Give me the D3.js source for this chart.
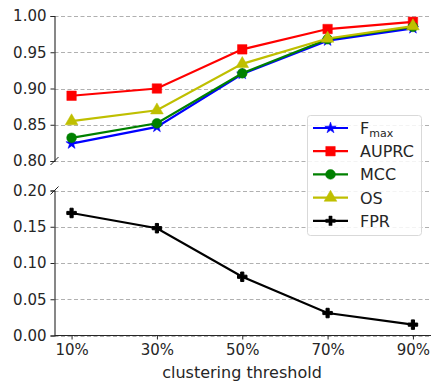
<!DOCTYPE html>
<html>
<head>
<meta charset="utf-8">
<script src="https://cdn.jsdelivr.net/npm/d3@7"></script>
<style>
  body { margin: 0; background: #fff; }
  text { font-family: "DejaVu Sans", sans-serif; }
</style>
</head>
<body>
<svg id="chart" width="431" height="382"></svg>
<script>
// values
const thresholds = ["10%", "30%", "50%", "70%", "90%"];
const fmax  = [0.824, 0.847, 0.920, 0.966, 0.983];
const auprc = [0.890, 0.900, 0.954, 0.982, 0.992];
const mcc   = [0.832, 0.852, 0.921, 0.968, 0.985];
const os    = [0.855, 0.870, 0.934, 0.969, 0.986];
const fpr   = [0.169, 0.148, 0.081, 0.031, 0.015];
const topTicks = [0.80, 0.85, 0.90, 0.95, 1.00];
const botTicks = [0.00, 0.05, 0.10, 0.15, 0.20];

const svg = d3.select("#chart");

const xNum = d3.scaleLinear().domain([6, 94]).range([54.5, 430]);
const xVal = i => xNum(10 + 20 * i);

const yTop = d3.scaleLinear().domain([0.80, 1.00]).range([161, 16]);
const yBot = d3.scaleLinear().domain([0.00, 0.20]).range([335.5, 190.5]);

const series = [
  { name: "Fmax",  data: fmax,  color: "#0000ff", marker: "star" },
  { name: "AUPRC", data: auprc, color: "#ff0000", marker: "square" },
  { name: "MCC",   data: mcc,   color: "#008000", marker: "circle" },
  { name: "OS",    data: os,    color: "#bfbf00", marker: "triangle" },
  { name: "FPR",   data: fpr,   color: "#000000", marker: "plus" }
];

function markerPath(type) {
  const sym = {
    star: d3.symbolStar, square: d3.symbolSquare, circle: d3.symbolCircle,
    triangle: d3.symbolTriangle, plus: d3.symbolCross
  }[type];
  const size = { star: 40, square: 90, circle: 75, triangle: 70, plus: 50 }[type];
  return d3.symbol().type(sym).size(size)();
}

// grid lines
function grid(y, ticks) {
  svg.append("g").selectAll("line").data(ticks).join("line")
    .attr("x1", 54.5).attr("x2", 431)
    .attr("y1", d => Math.round(y(d)) + 0.5).attr("y2", d => Math.round(y(d)) + 0.5)
    .attr("stroke", "#b0b0b0").attr("stroke-width", 1)
    .attr("stroke-dasharray", "4,2.5");
}
grid(yTop, topTicks);
grid(yBot, botTicks);

// axes
const axTop = svg.append("g").attr("transform", "translate(54.5,0)")
  .call(d3.axisLeft(yTop).tickValues(topTicks).tickFormat(d3.format(".2f")).tickSize(4).tickPadding(4));
const axBot = svg.append("g").attr("transform", "translate(54.5,0)")
  .call(d3.axisLeft(yBot).tickValues(botTicks).tickFormat(d3.format(".2f")).tickSize(4).tickPadding(4));
const axX = svg.append("g").attr("transform", "translate(0,335.5)")
  .call(d3.axisBottom(xNum).tickValues([10, 30, 50, 70, 90]).tickFormat((d, i) => thresholds[i]).tickSize(4).tickPadding(5));
axX.select(".domain").attr("d", "M54.5,0H431");

[axTop, axBot, axX].forEach(a => {
  a.selectAll("text").attr("font-size", 15).attr("fill", "#262626").attr("font-family", "DejaVu Sans");
  a.selectAll("line").attr("stroke", "#262626");
  a.select(".domain").attr("stroke", "#262626").attr("stroke-width", 1.1);
});

// break marks
[[54.5, 161], [54.5, 190.5]].forEach(([x, y]) => {
  svg.append("line").attr("x1", x - 4).attr("y1", y + 4).attr("x2", x + 4).attr("y2", y - 4)
    .attr("stroke", "#262626").attr("stroke-width", 1);
});

// lines + markers
const plot = svg.append("g");
series.forEach(s => {
  const y = s.name === "FPR" ? yBot : yTop;
  const line = d3.line().x((d, i) => xVal(i)).y(d => y(d));
  plot.append("path").datum(s.data).attr("d", line)
    .attr("fill", "none").attr("stroke", s.color).attr("stroke-width", 2.2);
  plot.append("g").selectAll("path").data(s.data).join("path")
    .attr("transform", (d, i) => `translate(${xVal(i)},${y(d)})`)
    .attr("d", markerPath(s.marker))
    .attr("fill", s.color).attr("stroke", s.color).attr("stroke-width", s.marker === "plus" ? 1 : 0.5);
});

// x label
svg.append("text").attr("x", 242).attr("y", 378).attr("text-anchor", "middle")
  .attr("font-size", 16).attr("fill", "#262626").text("clustering threshold");

// legend
const lg = svg.append("g").attr("transform", "translate(307,115)");
lg.append("rect").attr("x", 0.5).attr("y", 0.5).attr("width", 114).attr("height", 120).attr("rx", 3)
  .attr("fill", "#fff").attr("fill-opacity", 0.85).attr("stroke", "#d9d9d9");
series.forEach((s, i) => {
  const yy = 13 + i * 23.2;
  lg.append("line").attr("x1", 6).attr("x2", 41).attr("y1", yy).attr("y2", yy)
    .attr("stroke", s.color).attr("stroke-width", 2.2);
  lg.append("path").attr("transform", `translate(23.5,${yy})`).attr("d", markerPath(s.marker))
    .attr("fill", s.color).attr("stroke", s.color).attr("stroke-width", 0.5);
  const t = lg.append("text").attr("x", 53).attr("y", yy + 6).attr("font-size", 16).attr("fill", "#262626");
  if (s.name === "Fmax") {
    t.append("tspan").text("F");
    t.append("tspan").attr("font-size", 11).attr("dy", 3).text("max");
  } else {
    t.text(s.name);
  }
});
</script>
</body>
</html>
